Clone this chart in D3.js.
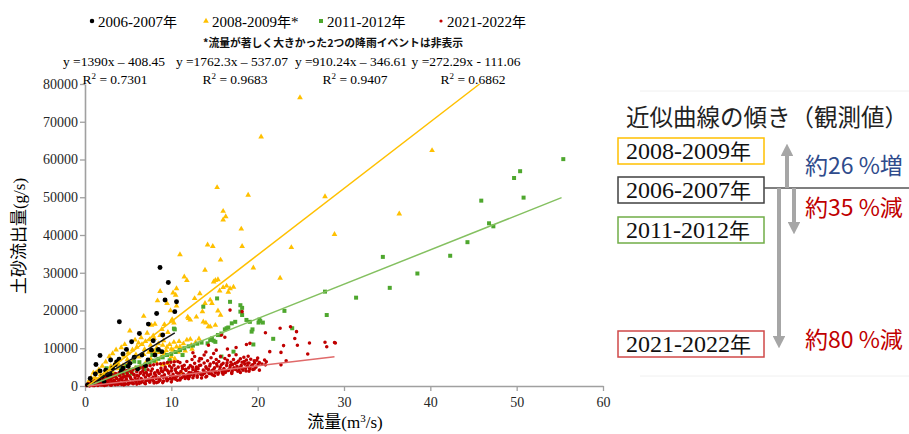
<!DOCTYPE html>
<html><head><meta charset="utf-8">
<script src="https://cdn.jsdelivr.net/npm/d3@7"></script>
<style>body{margin:0;background:#fff}svg{display:block}</style>
</head><body><svg id="c" width="909" height="434"></svg>
<script>
// Sediment discharge vs. flow, four observation periods
const periods = ["2006-2007年", "2008-2009年*", "2011-2012年", "2021-2022年"];
const slopes = [1390, 1762.3, 910.24, 272.29];
const intercepts = [-408.45, -537.07, -346.61, -111.06];
const eqTexts = ["y =1390x – 408.45", "y =1762.3x – 537.07", "y =910.24x – 346.61", "y =272.29x - 111.06"];
const r2Values = ["0.7301", "0.9683", "0.9407", "0.6862"];
const fitRanges = [[0.3, 10.4], [0.3, 45.7], [0.4, 55.2], [0.4, 28.9]];
const xTicks = [0, 10, 20, 30, 40, 50, 60];
const yTicks = [0, 10000, 20000, 30000, 40000, 50000, 60000, 70000, 80000];

// [flow m3/s, sediment g/s]
const pts0607 = [[0.3,300],[0.6,2000],[0.9,800],[1.2,3200],[1.27,5700],[1.6,1500],[1.74,4000],[1.74,8100],[2.0,2600],[2.2,1200],[2.4,4200],[2.6,3000],[2.9,3200],[2.97,6900],[3.2,4800],[3.5,5600],[3.67,6400],[3.94,7100],[3.98,17000],[4.2,3900],[4.4,8500],[4.4,4700],[4.8,9700],[5.0,5200],[5.2,6000],[5.4,11700],[5.7,7600],[6.1,4500],[6.3,13900],[6.6,8200],[7.0,5400],[7.3,6900],[7.34,16400],[7.7,9500],[8.1,8200],[8.3,19200],[8.5,9700],[8.69,31400],[8.9,9100],[9.27,22800],[9.65,27400],[10.4,19700],[10.6,22300],[7.9,12000],[9.0,13500]];

const pts0809 = [[24.9,76400],[20.4,66000],[40.2,62400],[15.3,52600],[18.9,50600],[27.8,50200],[16.0,46300],[36.4,45600],[16.3,44900],[16.0,44000],[18.1,41600],[28.9,40200],[14.2,37400],[14.8,37000],[18.2,37000],[23.9,36700],[11.0,34800],[15.7,33400],[13.9,30700],[19.5,31300],[11.5,28900],[11.8,28000],[15.1,28000],[14.9,27600],[22.6,28600],[16.0,26100],[16.4,26500],[16.8,25800],[17.2,26200],[16.6,24900],[15.6,25200],[10.6,25800],[10.2,24700],[10.5,24100],[8.7,25100],[8.4,22600],[9.5,21900],[13.3,24500],[12.7,23200],[14.5,22800],[14.7,21900],[13.9,21900],[10.6,21200],[9.9,20000],[12.0,17900],[13.7,17000],[14.0,16700],[14.5,15700],[6.8,18500],[7.7,16100],[8.1,16400],[10.0,17200],[5.2,14600],[9.2,16300],[8.9,15000],[9.6,14200],[7.2,14000],[7.9,13300],[6.5,12800],[5.8,12200],[6.2,11400],[4.6,11000],[4.2,10200],[3.6,9600],[3.2,8600],[2.8,7800],[2.4,6400],[2.0,5300],[1.6,4300],[1.3,3600],[0.97,3500],[0.7,2200],[0.5,1500],[0.4,900],[1.0,1800],[1.8,3000],[2.5,4200],[3.0,5200],[3.5,6100],[4.0,7000],[4.5,8000],[5.0,8800],[5.5,9600],[6.0,10300],[6.6,11000],[7.0,11800],[7.5,12300],[8.0,12600],[8.5,11200],[9.0,10800],[9.5,10300],[10.0,9800],[10.6,10400],[11.0,10000],[10.2,9500],[10.0,7800],[9.85,6900],[11.8,12200],[12.2,12400],[11.2,3400],[9.2,8600],[8.6,8900],[8.0,9200],[7.4,9000],[6.8,8400],[6.2,7700],[5.6,7000],[5.0,6200],[4.4,5400],[3.8,4600],[3.2,3800],[2.6,3000],[2.0,2300],[1.4,1600],[7.6,7200],[8.2,6500],[9.0,5600],[9.6,6000],[10.4,7200],[8.8,7600],[7.0,6000],[6.4,5200],[5.8,4700],[5.2,4200],[4.6,3700],[4.0,3000],[3.4,2500],[12.3,10800],[12.8,11500],[13.2,12500],[11.4,11200],[15.4,28200],[10.1,17600],[10.3,16700],[11.9,18300],[12.2,17500],[12.9,18300],[14.3,15700],[15.4,19900],[15.7,18800],[15.1,16100],[13.6,19700],[11.0,10400],[10.8,9000],[9.4,9400],[8.3,10100],[9.8,11000],[10.3,11600],[10.9,11800],[9.1,12000],[8.7,13400],[7.6,10800],[6.9,9700],[5.9,8300],[4.9,7000],[3.9,5700],[3.0,4400],[2.2,3300],[1.2,2100],[11.6,9300],[12.4,9800]];

const pts1112 = [[55.4,60100],[50.4,56900],[49.7,55100],[50.8,49900],[45.9,49100],[46.8,43100],[47.3,42300],[44.3,38100],[42.3,34500],[38.5,29800],[34.5,34200],[35.3,26000],[31.4,23400],[27.8,25000],[28.0,18800],[23.1,19900],[24.0,15300],[21.8,12500],[20.2,17600],[20.6,16800],[20.1,16800],[19.4,15000],[19.3,14400],[19.5,11000],[18.7,17500],[19.1,17000],[20.3,17200],[18.0,21400],[16.8,22300],[15.3,23200],[13.7,21000],[18.0,19700],[18.2,18800],[17.4,17000],[17.0,16600],[16.6,15500],[16.2,15000],[15.6,13500],[14.7,12600],[14.9,12000],[14.5,12200],[17.2,9100],[10.4,15000],[18.2,20700],[16.4,15300],[15.8,13900],[15.4,13500],[14.2,11300],[15.1,11700],[15.8,7800],[10.3,15200],[8.4,9500],[2.5,4700],[1.0,700],[2.0,1400],[3.0,2300],[3.5,2600],[4.0,3100],[4.5,3500],[5.0,4000],[5.5,4300],[6.0,4900],[6.5,5000],[7.0,5700],[7.5,6200],[8.0,6700],[8.5,7200],[9.0,7600],[9.5,8200],[10.0,8500],[10.5,9000],[11.0,9500],[11.5,10000],[12.0,10500],[12.5,10700],[13.0,11200],[13.5,11500],[7.8,8200],[6.3,6300],[4.8,5300],[2.6,2000],[1.6,1100],[5.4,3300],[6.9,4500],[9.8,6800],[11.3,8200],[3.3,3000],[5.7,6500],[4.2,4600]];

const pts2122 = [[0.2,100],[0.3,300],[0.4,150],[0.5,500],[0.6,250],[0.7,700],[0.8,400],[0.9,150],[1.0,900],[1.1,500],[1.2,250],[1.3,1100],[1.4,700],[1.5,350],[1.6,1200],[1.7,800],[1.8,450],[1.9,1500],[2.0,1000],[2.0,300],
[2.1,600],[2.2,1700],[2.3,1200],[2.4,400],[2.5,900],[2.6,2000],[2.7,1400],[2.8,700],[2.9,300],[3.0,1800],[3.1,1100],[3.2,2300],[3.3,600],[3.4,1500],[3.5,2600],[3.6,900],[3.7,1900],[3.8,400],[3.9,1300],[4.0,2800],
[4.1,700],[4.2,2200],[4.3,1600],[4.4,3100],[4.5,1000],[4.6,2500],[4.7,500],[4.8,1800],[4.9,3300],[5.0,1200],[5.1,2700],[5.2,800],[5.3,2000],[5.4,3600],[5.5,1500],[5.6,600],[5.7,2900],[5.8,2200],[5.9,1000],[6.0,3800],
[6.1,1700],[6.2,2600],[6.3,700],[6.4,3300],[6.5,2000],[6.6,1200],[6.7,4000],[6.8,2900],[6.9,800],[7.0,2300],[7.1,3600],[7.2,1500],[7.3,4300],[7.4,2700],[7.5,1000],[7.6,3100],[7.7,1900],[7.8,4500],[7.9,2400],[8.0,1200],
[8.1,3500],[8.2,2800],[8.3,900],[8.4,4100],[8.5,2100],[8.6,3300],[8.7,1500],[8.8,4700],[8.9,2600],[9.0,3800],[9.1,1300],[9.2,3000],[9.3,5000],[9.4,2200],[9.5,4200],[9.6,1700],[9.7,3400],[9.8,5300],[9.9,2600],[10.0,4000],
[10.1,1800],[10.2,3100],[10.3,5500],[10.4,2400],[10.5,4500],[10.6,3600],[10.7,1500],[10.8,5000],[10.9,2900],[11.0,6200],[11.1,3800],[11.2,2200],[11.3,4600],[11.4,3200],[11.5,5500],[11.6,2000],[11.7,4100],[11.8,6500],[11.9,3000],[12.0,4800],
[12.1,2500],[12.2,5400],[12.3,3500],[12.4,7000],[12.5,4300],[12.6,2800],[12.7,6000],[12.8,3900],[12.9,5000],[13.0,2300],[13.1,4600],[13.2,6600],[13.3,3400],[13.4,5500],[13.5,7200],[13.6,2900],[13.7,4200],[13.8,6100],[13.9,3700],[14.0,5100],
[14.1,2600],[14.2,6700],[14.3,4400],[14.4,3300],[14.5,5800],[14.6,7500],[14.7,4000],[14.8,2900],[14.9,6200],[15.0,4800],[15.1,3600],[15.2,7000],[15.3,5300],[15.4,3100],[15.5,6500],[15.6,4300],[15.7,7800],[15.8,5600],[15.9,3500],[16.0,6000],
[16.1,4600],[16.2,7300],[16.3,3800],[16.4,5400],[16.5,6800],[16.6,4100],[16.7,8100],[16.8,5000],[16.9,6300],[17.0,3600],[17.1,5700],[17.2,7000],[17.3,4500],[17.4,6000],[17.5,8300],[17.6,5200],[17.7,3900],[17.8,6600],[17.9,4800],[18.0,7200],
[18.1,5500],[18.2,6300],[18.3,4200],[18.4,7600],[18.5,5800],[18.6,4700],[18.7,6900],[18.8,5300],[18.9,7900],[19.0,6100],[19.1,4500],[19.2,7100],[19.4,5600],[19.6,6700],[19.8,5000],[20.0,7400],[20.2,6200],[20.5,5800],[20.8,6900],[21.0,6400],
[0.5,100],[1.0,200],[1.5,150],[2.5,250],[3.0,500],[3.5,350],[4.0,600],[4.5,300],[5.0,450],[5.5,700],[6.0,500],[6.5,900],[7.0,600],[7.5,1300],[8.0,800],[8.5,1100],[9.0,900],[9.5,1400],[10.0,1100],[10.5,1800],[11.0,1600],[11.5,2500],[12.0,1900],[12.5,2200],[13.0,2700],[13.5,2100],[14.0,2400],[15.0,2700],[16.0,3100],[17.0,3300],[18.0,3600],[19.0,3900],
[0.35,600],[0.75,1000],[1.15,1400],[1.55,1800],[1.95,2200],[2.35,2500],[2.75,2800],[3.15,3000],[3.55,3300],[3.95,3500],[4.35,3800],[4.75,4000],[5.15,4200],[5.55,4400],[5.95,4600],[6.35,4800],[6.75,5000],[7.15,5200],[7.55,5400],[7.95,5600],[8.35,5800],[8.75,5900],[9.15,6000],[9.55,6200],[9.95,6300],[10.35,6400],[10.75,6500],
[0.45,350],[0.85,650],[1.25,800],[1.65,600],[2.05,1300],[2.45,1500],[2.85,1600],[3.25,1300],[3.65,2100],[4.05,1800],[4.45,2300],[4.85,2600],[5.25,2300],[5.65,3100],[6.05,2800],[6.45,3600],[6.85,3400],[7.25,3000],[7.65,3900],[8.05,3300],[8.45,3700],[8.85,4000],[9.25,4400],[9.65,3800],[10.05,4800],[10.45,4200],[10.85,3300],[11.25,5200],[11.65,4400],[12.05,3600],[12.45,5000],[12.85,4500],[13.25,5400],[13.65,3300],[14.05,4700],[14.45,5300],[14.85,4300],[15.25,5900],[15.65,5000],[16.05,4200],[16.45,6100],[16.85,5500],[17.25,4800],[17.65,6300],[18.05,5100],[18.45,6500],[18.85,6000],[19.25,5300],[19.65,6100],[20.05,5700],
[0.55,50],[1.05,100],[1.45,450],[1.85,250],[2.25,150],[2.65,600],[3.05,200],[3.45,900],[3.85,700],[4.25,400],[4.65,1300],[5.05,700],[5.45,1000],[5.85,1400],[6.25,1100],[6.65,1600],[7.05,1300],[7.45,1800],[7.85,1500],[8.25,2000],[8.65,1700],[9.05,2300],[9.45,1900],[9.85,2000],[10.25,2300],[10.65,2600],[11.05,2000],[11.45,2800],[11.85,2400],[12.25,3000],[12.65,3300],[13.05,3600],[13.45,3000],[13.85,3400],[14.25,3700],[14.65,3200],[15.05,3900],[15.45,3500],[15.85,4100],[16.25,3600],[16.65,4300],[17.05,4000],[17.45,4400],[17.85,4200],[18.25,4600],[18.65,4000],[19.05,4800],[19.45,4400],
[16.8,20100],[18.2,19700],[15.8,13500],[16.2,12900],[14.3,10800],[18.7,11000],[19.1,11300],[13.3,7300],[12.7,7800],[20.9,14100],[22.6,15300],[23.8,15700],[24.3,12600],[24.5,14400],[24.6,10800],[23.0,10700],[21.4,9100],[22.7,8900],[26.0,11400],[27.8,11600],[28.0,10400],[28.9,11500],[29.0,11400],[25.8,8500],[23.3,6700],[22.7,5600],[20.9,5600],[19.6,4500],[19.9,6800],[20.2,4200],[17.5,10200],[15.2,9500],[14.0,9000],[12.5,8800],[16.5,9800],[14.9,8600],[13.8,8200]];

const seriesColors = ["#000000", "#ffc000", "#4ea72e", "#c00000"];
const lineColors = ["#1a1a1a", "#ffc000", "#84c060", "#e06a6a"];

const SERIF = "Liberation Serif";
const JP = "Noto Sans CJK JP";

const svg = d3.select("#c");
svg.append("rect").attr("width", 909).attr("height", 434).attr("fill", "#fff");

const x = d3.scaleLinear().domain([0, 60]).range([85, 603]);
const y = d3.scaleLinear().domain([0, 80000]).range([386, 84]);

// axes
const axisColor = "#a0a0a0";
const gx = svg.append("g").attr("transform", `translate(0,${y(0)})`)
  .call(d3.axisBottom(x).tickValues(xTicks).tickSize(5).tickSizeOuter(0).tickFormat(d3.format("d")));
const gy = svg.append("g").attr("transform", `translate(${x(0)},0)`)
  .call(d3.axisLeft(y).tickValues(yTicks).tickSize(5).tickSizeOuter(0).tickFormat(d3.format("d")));
[gx, gy].forEach(g => {
  g.attr("font-family", SERIF).attr("font-size", 14);
  g.select(".domain").attr("stroke", axisColor).attr("stroke-width", 1.6);
  g.selectAll(".tick line").attr("stroke", axisColor).attr("stroke-width", 1.3);
  g.selectAll("text").style("font-family", SERIF).style("font-size", "14px").attr("fill", "#262626");
});
gx.selectAll("text").attr("dy", "0.9em");
gy.selectAll("text").attr("x", -7);

// axis titles
const yt = svg.append("text").attr("transform", "translate(25,236) rotate(-90)")
  .attr("text-anchor", "middle").style("font-family", SERIF).style("font-size", "17px").attr("fill", "#000");
yt.append("tspan").style("font-family", JP).text("土砂流出量");
yt.append("tspan").text("(g/s)");

const xt = svg.append("text").attr("x", 345).attr("y", 428)
  .attr("text-anchor", "middle").style("font-family", SERIF).style("font-size", "17px").attr("fill", "#000");
xt.append("tspan").style("font-family", JP).text("流量");
xt.append("tspan").text("(m");
xt.append("tspan").style("font-size", "11px").attr("dy", -6).text("3");
xt.append("tspan").attr("dy", 6).text("/s)");

// markers
const plot = svg.append("g");
function drawPoints(data, sym, size, color, cls) {
  plot.append("g").attr("class", cls).selectAll("path").data(data).join("path")
    .attr("transform", d => `translate(${x(d[0])},${y(d[1])})`)
    .attr("d", d3.symbol().type(sym).size(size))
    .attr("fill", color);
}
drawPoints(pts0809, d3.symbolTriangle, 14, seriesColors[1], "s0809");
drawPoints(pts1112, d3.symbolSquare, 16, seriesColors[2], "s1112");
drawPoints(pts2122, d3.symbolCircle, 10, seriesColors[3], "s2122");
drawPoints(pts0607, d3.symbolCircle, 19, seriesColors[0], "s0607");

// linear fits
const line = d3.line().x(d => x(d[0])).y(d => y(d[1]));
slopes.forEach((m, i) => {
  const pts = fitRanges[i].map(v => [v, m * v + intercepts[i]]);
  plot.append("path").datum(pts).attr("d", line)
    .attr("fill", "none").attr("stroke", lineColors[i]).attr("stroke-width", 1.5);
});

// legend
const legX = [92, 206, 321, 441];
const legSym = [d3.symbolCircle, d3.symbolTriangle, d3.symbolSquare, d3.symbolCircle];
const legSize = [16, 14, 16, 8];
periods.forEach((p, i) => {
  svg.append("path").attr("transform", `translate(${legX[i]},${21})`)
    .attr("d", d3.symbol().type(legSym[i]).size(legSize[i])).attr("fill", seriesColors[i]);
  const t = svg.append("text").attr("x", legX[i] + 6).attr("y", 27)
    .style("font-family", SERIF).style("font-size", "15px").attr("fill", "#000");
  const m = p.match(/^([0-9-]+)(年)(\*?)$/);
  t.append("tspan").text(m[1]);
  t.append("tspan").style("font-family", JP).style("font-size", "14px").text(m[2]);
  if (m[3]) t.append("tspan").text(m[3]);
});
svg.append("text").attr("x", 333).attr("y", 47).attr("text-anchor", "middle")
  .style("font-family", JP).attr("font-weight", 700).style("font-size", "10.8px").attr("fill", "#111")
  .text("*流量が著しく大きかった2つの降雨イベントは非表示");

// fit equations
const eqX = [114, 232, 351, 466];
const r2X = [115, 235, 355, 473];
eqTexts.forEach((e, i) => {
  svg.append("text").attr("x", eqX[i]).attr("y", 66).attr("text-anchor", "middle")
    .style("font-family", SERIF).style("font-size", "13.5px").attr("fill", "#000").text(e);
  const r = svg.append("text").attr("x", r2X[i]).attr("y", 84).attr("text-anchor", "middle")
    .style("font-family", SERIF).style("font-size", "13.5px").attr("fill", "#000");
  r.append("tspan").text("R");
  r.append("tspan").style("font-size", "9px").attr("dy", -5).text("2");
  r.append("tspan").attr("dy", 5).text(" = " + r2Values[i]);
});

// slope comparison panel
const panel = svg.append("g");
panel.append("line").attr("x1", 640).attr("x2", 909).attr("y1", 91).attr("y2", 91).attr("stroke", "#f0f0f0");
panel.append("line").attr("x1", 640).attr("x2", 909).attr("y1", 376).attr("y2", 376).attr("stroke", "#f0f0f0");
panel.append("text").attr("x", 626).attr("y", 126)
  .style("font-family", JP).style("font-size", "23.5px")
  .attr("fill", "#222").text("近似曲線の傾き（観測値）");

const boxOrder = [1, 0, 2, 3];
const boxTop = [138, 177, 217, 331];
const boxColors = ["#ffc000", "#404040", "#70ad47", "#d04848"];
boxOrder.forEach((si, k) => {
  panel.append("rect").attr("x", 618).attr("y", boxTop[k]).attr("width", 146).attr("height", 26)
    .attr("fill", "#fff").attr("stroke", boxColors[k]).attr("stroke-width", 1.5);
  const t = panel.append("text").attr("x", 626).attr("y", boxTop[k] + 21)
    .style("font-family", SERIF).style("font-size", "24px").attr("fill", "#111");
  const label = periods[si].replace("*", "");
  t.append("tspan").text(label.replace("年", ""));
  t.append("tspan").style("font-family", JP).style("font-size", "21px").text("年");
});
// baseline from the 2006-2007 box
panel.append("line").attr("x1", 764).attr("x2", 909).attr("y1", 188).attr("y2", 188)
  .attr("stroke", "#555").attr("stroke-width", 1.5);

const defs = svg.append("defs");
defs.append("marker").attr("id", "ah").attr("viewBox", "0 0 10 10").attr("refX", 5).attr("refY", 5)
  .attr("markerWidth", 3.2).attr("markerHeight", 3.2).attr("orient", "auto-start-reverse")
  .append("path").attr("d", "M0,0 L10,5 L0,10 z").attr("fill", "#a6a6a6");
const arrows = [[787, 188, 150], [794, 188, 228], [779, 188, 342]];
arrows.forEach(a => {
  panel.append("line").attr("x1", a[0]).attr("x2", a[0]).attr("y1", a[1]).attr("y2", a[2])
    .attr("stroke", "#a6a6a6").attr("stroke-width", 4).attr("marker-end", "url(#ah)");
});

const changes = [["約26 %増", 174, "#2f4b8c"], ["約35 %減", 216, "#c00000"], ["約80 %減", 348, "#c00000"]];
changes.forEach(c => {
  panel.append("text").attr("x", 805).attr("y", c[1]).style("font-family", JP)
    .style("font-size", "23px").attr("fill", c[2]).text(c[0]);
});
</script></body></html>
